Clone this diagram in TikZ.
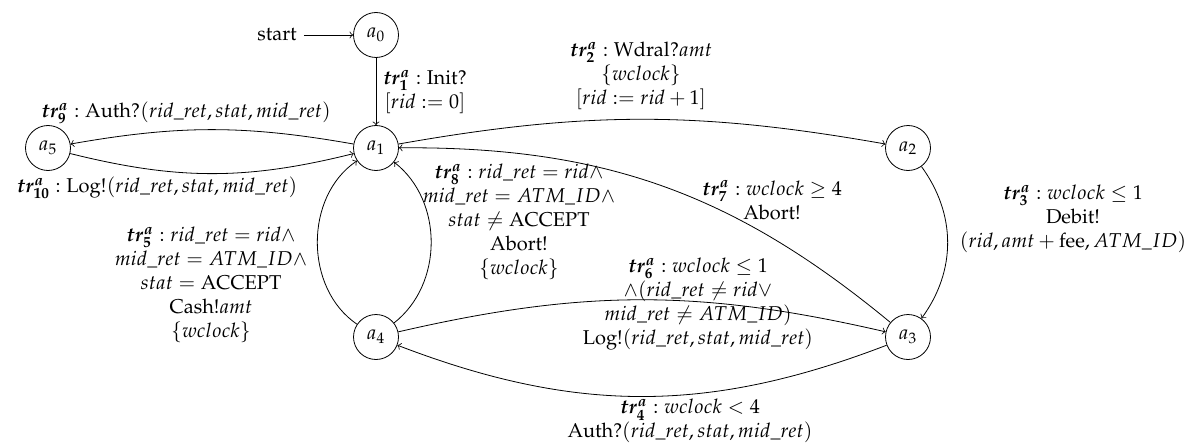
\documentclass[tikz,border=0pt]{standalone}
\usepackage[T1]{fontenc}
\usepackage{mathpazo}
\usepackage{amsmath,bm}
\begin{document}
\begin{tikzpicture}[x=0.5pt,y=-0.5pt,>=to,
  st/.style={circle,draw,minimum size=22.5pt,inner sep=0pt},
  lbl/.style={align=center,inner sep=1pt},
  tr/.style={->,line width=0.4pt}]
\useasboundingbox (0,0) rectangle (1198,444);
\node[st] (a0) at (376,35) {$a_0$};
\node[st] (a1) at (376,148) {$a_1$};
\node[st] (a2) at (908,148) {$a_2$};
\node[st] (a3) at (908,337) {$a_3$};
\node[st] (a4) at (376,337) {$a_4$};
\node[st] (a5) at (48,148) {$a_5$};
\node (start) at (277,35) {start};

\draw[tr] (start) -- (a0);
\draw[tr] (a0) -- (a1);
\draw[tr] (a1) to[bend left=10] (a2);
\draw[tr] (a2) to[bend left=36] (a3);
\draw[tr] (a3) to[bend left=21] (a4);
\draw[tr] (a4) to[bend left=13] (a3);
\draw[tr] (a4) to[bend left=56] (a1);
\draw[tr] (a4) to[bend right=52] (a1);
\draw[tr] (a3) to[bend right=20] (a1);
\draw[tr] (a1) to[bend right=10] (a5);
\draw[tr] (a5) to[bend right=14] (a1);

\node[lbl] (l1) at (425,92) {$\bm{tr^a_1}:\mathrm{Init?}$\\$[rid := 0]$};
\node[lbl] (l2) at (641,76) {$\bm{tr^a_2}:\mathrm{Wdral?}amt$\\$\{wclock\}$\\$[rid := rid+1]$};
\node[lbl] (l3) at (1073,219) {$\bm{tr^a_3}: wclock \le 1$\\Debit!\\$(rid, amt+\mathrm{fee}, ATM\_ID)$};
\node[lbl] (l4) at (690,421) {$\bm{tr^a_4}: wclock < 4$\\Auth?$(rid\_ret, stat, mid\_ret)$};
\node[lbl] (l5) at (211,285) {$\bm{tr^a_5}: rid\_ret = rid\wedge$\\$mid\_ret = ATM\_ID\wedge$\\$stat = \mathrm{ACCEPT}$\\Cash!$amt$\\$\{wclock\}$};
\node[lbl] (l6) at (698,304) {$\bm{tr^a_6}: wclock \le 1$\\$\wedge(rid\_ret \ne rid\vee$\\$mid\_ret \ne ATM\_ID)$\\Log!$(rid\_ret, stat, mid\_ret)$};
\node[lbl] (l7) at (772,200) {$\bm{tr^a_7}: wclock \ge 4$\\Abort!};
\node[lbl] (l8) at (519,222) {$\bm{tr^a_8}: rid\_ret = rid\wedge$\\$mid\_ret = ATM\_ID\wedge$\\$stat \ne \mathrm{ACCEPT}$\\Abort!\\$\{wclock\}$};
\node[lbl] (l9) at (186,113) {$\bm{tr^a_9}:\mathrm{Auth?}(rid\_ret, stat, mid\_ret)$};
\node[lbl] (l10) at (157,188) {$\bm{tr^a_{10}}:\mathrm{Log!}(rid\_ret, stat, mid\_ret)$};
\end{tikzpicture}
\end{document}
